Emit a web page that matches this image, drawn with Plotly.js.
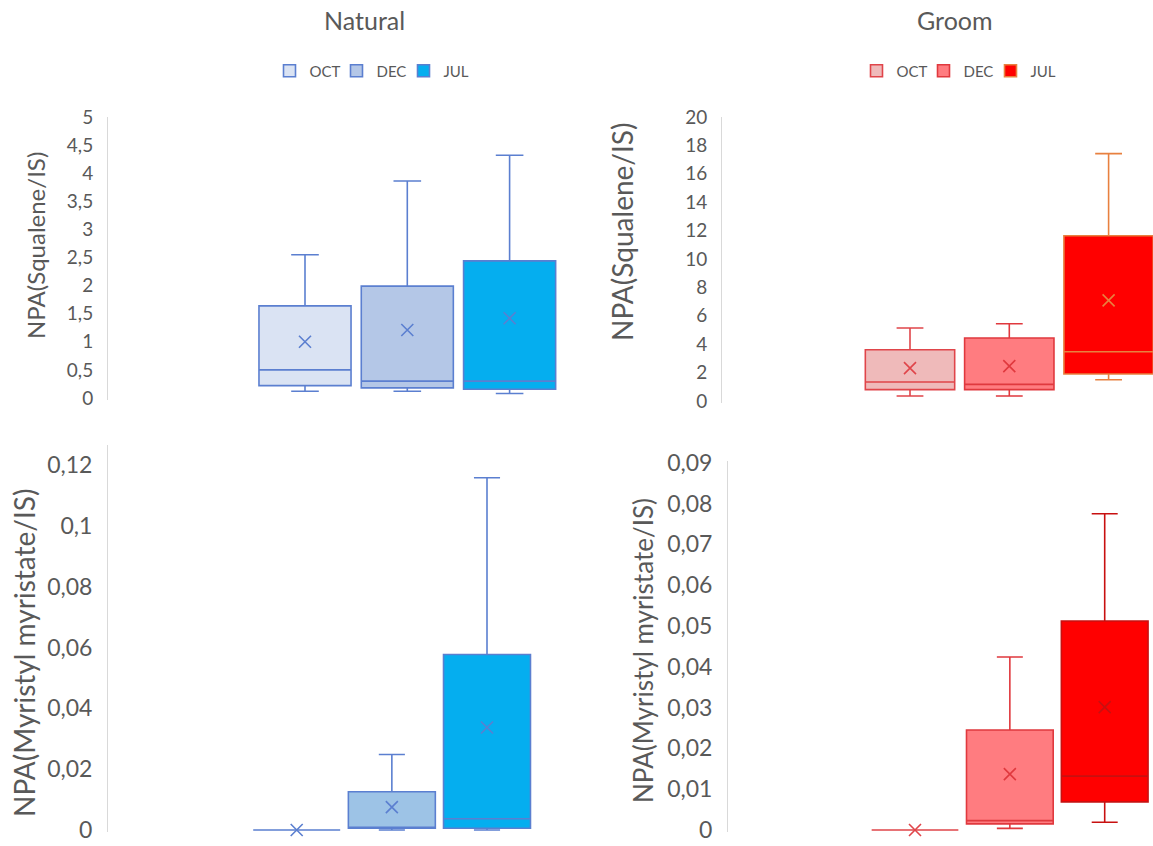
<!DOCTYPE html>
<html>
<head>
<meta charset="utf-8">
<script src="https://cdn.plot.ly/plotly-3.0.1.min.js"></script>
<style>
  html, body { margin: 0; padding: 0; background: #ffffff; }
  #chart { width: 1153px; height: 846px; }
</style>
</head>
<body>
<div id="chart"></div>
<script>
// Sampling months and their slot on each panel's x scale
const months = ['OCT', 'DEC', 'JUL'];
const monthPos = [1, 2, 3];

// Squalene, natural sebum
const natSqQ1   = [0.22, 0.18, 0.155];
const natSqMed  = [0.50, 0.30, 0.30];
const natSqQ3   = [1.64, 1.99, 2.44];
const natSqLo   = [0.12, 0.12, 0.08];
const natSqHi   = [2.55, 3.86, 4.32];
const natSqMean = [1.00, 1.21, 1.42];

// Squalene, groom
const groSqQ1   = [0.80, 0.80, 1.90];
const groSqMed  = [1.34, 1.17, 3.47];
const groSqQ3   = [3.61, 4.44, 11.64];
const groSqLo   = [0.35, 0.35, 1.50];
const groSqHi   = [5.14, 5.44, 17.42];
const groSqMean = [2.32, 2.46, 7.09];

// Myristyl myristate, natural sebum
const natMmQ1   = [0, 0.0006, 0.0006];
const natMmMed  = [0, 0.0008, 0.0037];
const natMmQ3   = [0, 0.0126, 0.0577];
const natMmLo   = [0, 0, 0];
const natMmHi   = [0, 0.0248, 0.1158];
const natMmMean = [0, 0.0075, 0.0337];

// Myristyl myristate, groom
const groMmQ1   = [0, 0.0015, 0.0069];
const groMmMed  = [0, 0.0023, 0.0132];
const groMmQ3   = [0, 0.0245, 0.0512];
const groMmLo   = [0, 0.0004, 0.0019];
const groMmHi   = [0, 0.0424, 0.0775];
const groMmMean = [0, 0.0137, 0.0301];

// Text
const columnTitles = ['Natural', 'Groom'];
const yTitleSq = 'NPA(Squalene/IS)';
const yTitleMm = 'NPA(Myristyl myristate/IS)';

// ---- styling ----
const W = 1153, H = 846;
const GREY = '#595959';
const FONT = 'Lato, "Open Sans", sans-serif';

const natFillTop = ['#DAE3F3', '#B4C7E7', '#05AEEF'];
const natFillBot = ['#DAE3F3', '#9DC3E6', '#05AEEF'];
const natLine    = ['#5B7FD0', '#5B7FD0', '#5B7FD0'];
const groFill    = ['#EFBABA', '#FF7C80', '#FF0000'];
const groLineTop = ['#E0454A', '#E0393E', '#E8803F'];
const groLineBot = ['#E0454A', '#E0393E', '#C81010'];

// y domain from two known pixel positions of values, for a given range
function yDomain(v0, p0, v1, p1, lo, hi) {
  const px = v => p0 + (v - v0) * (p1 - p0) / (v1 - v0);
  return [1 - px(lo) / H, 1 - px(hi) / H];
}
// x range so that slot 1 sits at c1 px and slots are step px apart
function xRange(left, right, c1, step) {
  return [1 - (c1 - left) / step, 1 + (right - c1) / step];
}

const traces = [];
function addPanel(ax, q1, med, q3, lo, hi, mean, fills, lines, boxW, legendId) {
  for (let i = 0; i < months.length; i++) {
    traces.push({
      type: 'box',
      name: months[i],
      x: [monthPos[i]],
      q1: [q1[i]], median: [med[i]], q3: [q3[i]],
      lowerfence: [lo[i]], upperfence: [hi[i]],
      width: boxW,
      whiskerwidth: 0.3,
      boxpoints: false,
      fillcolor: fills[i],
      line: { color: lines[i], width: 1.6 },
      xaxis: 'x' + ax, yaxis: 'y' + ax,
      showlegend: !!legendId,
      legend: legendId || 'legend',
      hoverinfo: 'skip'
    });
    traces.push({
      type: 'scatter', mode: 'markers',
      x: [monthPos[i]], y: [mean[i]],
      marker: { symbol: 'x-thin', size: 12, color: lines[i],
                line: { color: lines[i], width: 1.6 } },
      xaxis: 'x' + ax, yaxis: 'y' + ax,
      showlegend: false, hoverinfo: 'skip', cliponaxis: false
    });
  }
}

addPanel('',  natSqQ1, natSqMed, natSqQ3, natSqLo, natSqHi, natSqMean, natFillTop, natLine, 0.90, 'legend');
addPanel('2', groSqQ1, groSqMed, groSqQ3, groSqLo, groSqHi, groSqMean, groFill, groLineTop, 0.90, 'legend2');
addPanel('3', natMmQ1, natMmMed, natMmQ3, natMmLo, natMmHi, natMmMean, natFillBot, natLine, 0.914, null);
addPanel('4', groMmQ1, groMmMed, groMmQ3, groMmLo, groMmHi, groMmMean, groFill, groLineBot, 0.914, null);

function xAxis(left, right, c1, step) {
  return {
    domain: [left / W, right / W],
    range: xRange(left, right, c1, step),
    visible: false, fixedrange: true
  };
}
function yAxis(anchor, range, dom, tickSize, dtick) {
  return {
    anchor: anchor, domain: dom, range: range,
    showline: true, linecolor: '#D9D9D9', linewidth: 1,
    showgrid: false, zeroline: false,
    ticks: '', dtick: dtick, tick0: 0,
    ticklabelstandoff: 10,
    tickfont: { family: FONT, size: tickSize, color: GREY },
    fixedrange: true
  };
}
// Rotated axis-title text placed beside each y axis
function yTitle(text, cx, cy, size) {
  return {
    text: text, x: cx / W, y: 1 - cy / H, xref: 'paper', yref: 'paper',
    showarrow: false, textangle: -90, xanchor: 'center', yanchor: 'middle',
    font: { family: FONT, size: size, color: GREY }
  };
}
function colTitle(text, cx) {
  return {
    text: text, x: cx / W, y: 1 - 20 / H, xref: 'paper', yref: 'paper',
    showarrow: false, xanchor: 'center', yanchor: 'middle',
    font: { family: FONT, size: 25, color: GREY }
  };
}
function legendAt(cx) {
  return {
    orientation: 'h', x: cx / W, y: 1 - 71 / H, xanchor: 'center', yanchor: 'middle',
    font: { family: FONT, size: 15, color: GREY },
    entrywidth: 22, entrywidthmode: 'pixels', itemwidth: 30,
    bgcolor: 'rgba(0,0,0,0)', itemclick: false, itemdoubleclick: false
  };
}

const layout = {
  width: W, height: H,
  margin: { l: 0, r: 0, t: 0, b: 0 },
  paper_bgcolor: '#ffffff', plot_bgcolor: 'rgba(0,0,0,0)',
  separators: ',.',
  font: { family: FONT, color: GREY },
  boxmode: 'overlay',
  xaxis:  xAxis(108, 600, 305, 102.3),
  xaxis2: xAxis(722, 1153, 910, 99.3),
  xaxis3: xAxis(108, 600, 296.7, 95.15),
  xaxis4: xAxis(728, 1153, 915, 94.85),
  yaxis:  yAxis('x',  [-0.03, 5],          yDomain(0, 398, 5, 117, -0.03, 5), 19, 0.5),
  yaxis2: yAxis('x2', [-0.12, 20],         yDomain(0, 401, 20, 117, -0.12, 20), 19, 2),
  yaxis3: yAxis('x3', [-0.0006, 0.1265],   yDomain(0, 830, 0.12, 465, -0.0006, 0.1265), 23, 0.02),
  yaxis4: yAxis('x4', [-0.0004, 0.0905],   yDomain(0, 830, 0.09, 462.7, -0.0004, 0.0905), 23, 0.01),
  legend:  legendAt(370),
  legend2: legendAt(957),
  annotations: [
    colTitle(columnTitles[0], 364),
    colTitle(columnTitles[1], 955),
    yTitle(yTitleSq, 36, 246, 24),
    yTitle(yTitleSq, 622, 232, 28),
    yTitle(yTitleMm, 24, 653, 28),
    yTitle(yTitleMm, 643, 650, 26)
  ]
};

Plotly.newPlot('chart', traces, layout, { displayModeBar: false, staticPlot: true });
</script>
</body>
</html>
